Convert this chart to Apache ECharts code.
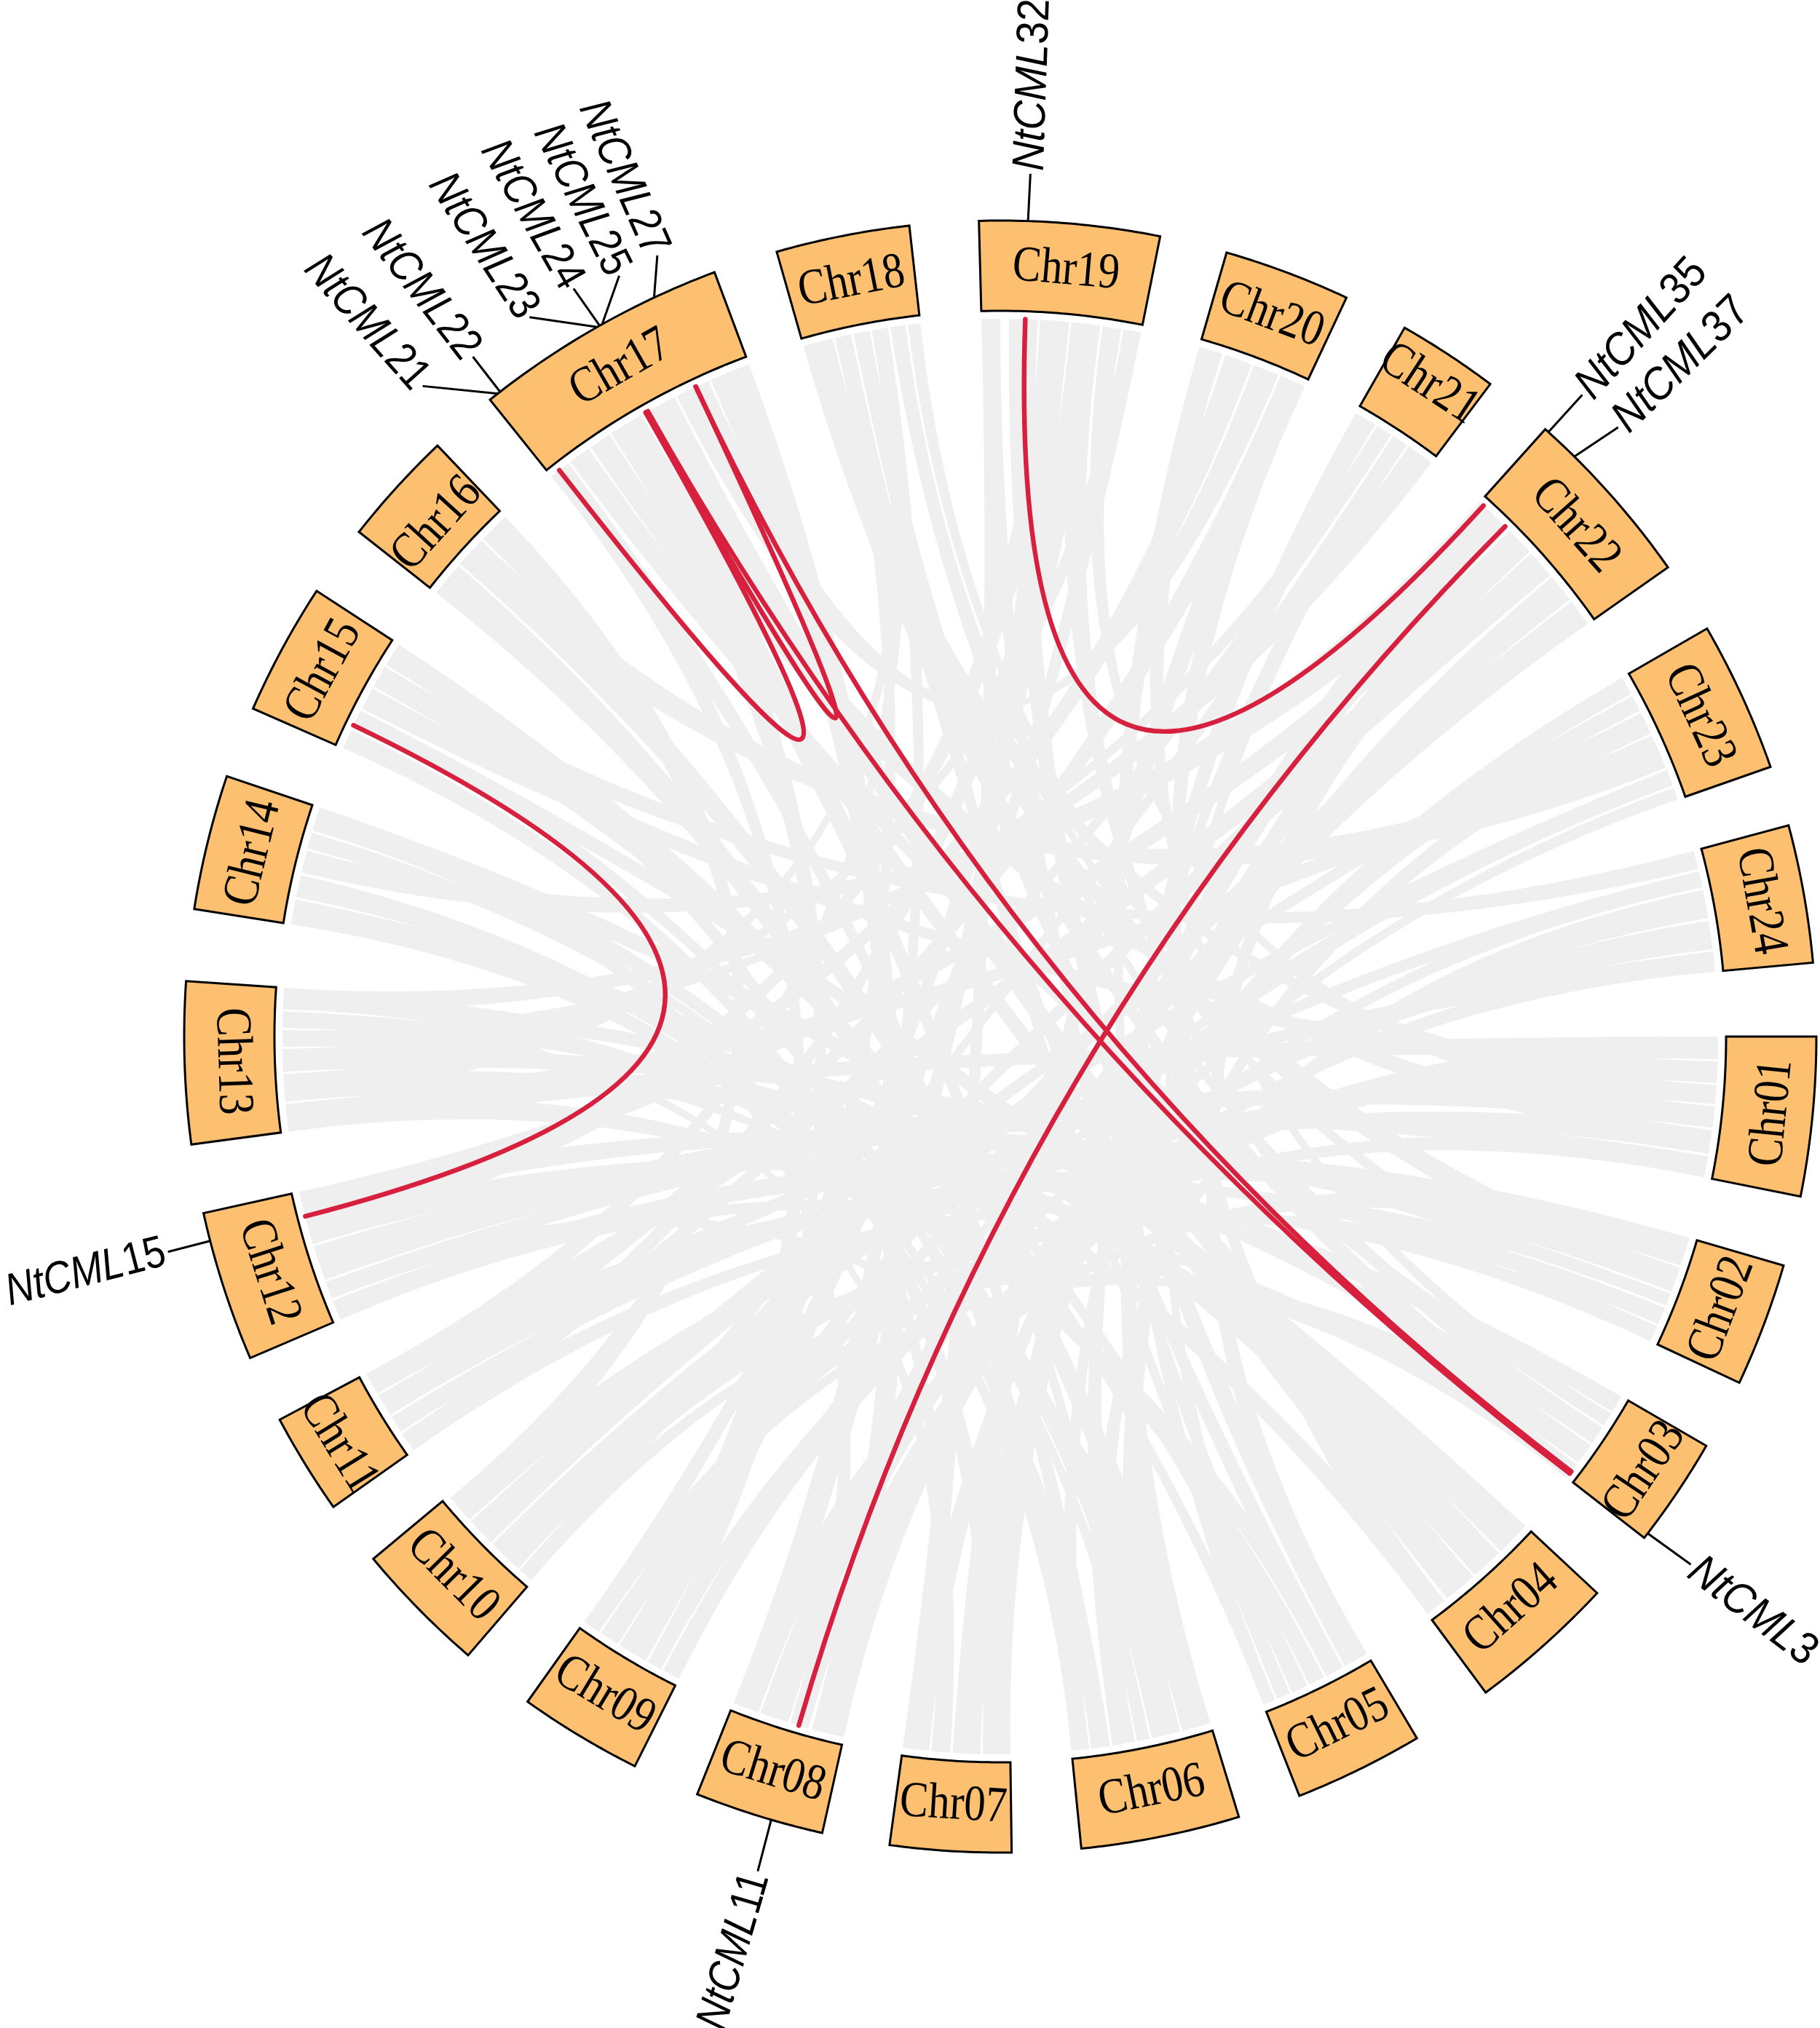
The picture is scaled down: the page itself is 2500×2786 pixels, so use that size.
<!DOCTYPE html>
<html>
<head>
<meta charset="utf-8">
<style>html,body{margin:0;padding:0;background:#fff}#c{width:2500px;height:2786px}</style>
<script src="https://cdn.jsdelivr.net/npm/echarts@6/dist/echarts.min.js"></script>
</head>
<body>
<div id="c"></div>
<script>
// Chromosome blocks, clockwise degrees from north
const chrNames = ['Chr01','Chr02','Chr03','Chr04','Chr05','Chr06','Chr07','Chr08','Chr09','Chr10','Chr11','Chr12','Chr13','Chr14','Chr15','Chr16','Chr17','Chr18','Chr19','Chr20','Chr21','Chr22','Chr23','Chr24'];
const chrStart = [90,106.3,120.1,133,149.3,163,179.2,192.6,206.6,220.7,234.8,246.8,262.4,279,293.7,308.2,321.3,344.1,358.5,16.1,29.7,41.9,60,75];
const chrEnd   = [101.3,115.1,127.9,143.5,158.5,174.3,187.8,201.8,215.4,230.2,242,257.5,273.9,288.6,303.1,316.4,339.5,353.6,371.3,25.1,36.9,54.9,70.7,84.8];
const chrLabelRadius = [1066,1060,1068,1055,1055,1058,1058,1058,1056,1056,1068,1056,1056,1056,1056,1046,1056,1056,1056,1058,1072,1056,1056,1060];

// Grey synteny ribbons: [from start, from end, to start, to end] in degrees
const greyLinks = [
 [90,91.8,262.4,264.6],[92,93.7,208.2,209.4],[93.9,95.4,227.7,230],[95.6,97.3,248.6,250],[97.5,99.4,327.2,330],[99.6,101.3,214,215.4],
 [106.3,108.6,238.2,240],[108.8,110.8,344.1,346.5],[111,112,240.2,242],[112.2,113.6,246.8,248.4],[113.8,115.1,351.2,352.4],
 [120.1,121.5,253.2,255.3],[121.7,122.8,16.1,18],[123,124.5,272.2,273.9],[124.7,126.4,344.1,346.5],[126.6,127.9,5.7,8],
 [133,135.8,295.5,297],[136,138.6,286.7,288.6],[138.8,141.5,348.2,349.5],[141.8,143.5,23,25.1],
 [149.3,151.3,0.7,3],[151.5,153,346.7,348],[153.2,154.5,269.2,270.5],[154.7,156,358.5,360],[156.2,157.3,33.2,34.5],[157.5,158.5,301.2,303.1],
 [163,165.3,311.2,313.7],[165.5,167.8,63.2,65],[168,169,327.2,330],[169.2,171,33.2,34.5],[171.2,172.7,281.2,283],[172.9,174.3,45.2,47.5],
 [179.2,181.4,41.9,45],[181.6,183.8,23,25.1],[184,185.5,270.7,272],[185.7,187.8,61.7,63],
 [192.6,195.2,76.7,78],[195.5,197,286.7,288.6],[197.2,199.5,52.7,54.9],[199.7,201.8,349.7,351],
 [206.6,208,68.2,69.5],[209.6,212,9.9,11.3],[212.2,213.8,68.2,69.5],[214,215.4,5.7,8],
 [220.8,222,47.7,50],[222.2,225,76.7,78],[225.2,227.5,61.7,63],[227.7,230,313.9,316.4],
 [234.8,236.4,31.7,33],[236.6,238,97.5,99.4],[238.2,240,83.2,84.8],
 [246.8,248.4,106.3,108.6],[250.2,253,95.6,97.3],[253.2,255.3,3.2,5.5],[255.5,257.5,45.2,47.5],
 [264.8,267,349.7,351],[267.2,269,9.9,11.3],[272.2,273.9,34.7,36.9],
 [325.2,327,138.8,141.5],[330.2,333,136,138.6],[348.2,349.5,156.2,157.3],[295.5,297,172.9,174.3],
 [308.2,311,172.9,174.3],[352.6,353.6,108.8,110.8],[29.7,31.5,163,165.3],[50.2,52.5,179.2,181.4],[69.7,70.7,192.6,195.2],[80.7,83,206.6,208],
 [90,91.8,195.5,197],[92,93.7,297.2,299],[95.6,97.3,8.2,9.7],[99.6,101.3,250.2,253],[106.3,108.6,199.7,201.8],[108.8,110.8,255.5,257.5],
 [112.2,113.6,222.2,225],[120.1,121.5,264.8,267],[123,124.5,351.2,352.4],[126.6,127.9,220.8,222],[133,135.8,270.7,272],[141.8,143.5,279,281],
 [149.3,151.3,45.2,47.5],[151.5,153,262.4,264.6],[154.7,156,299.2,301],[157.5,158.5,16.1,18],[163,165.3,248.6,250],[168,169,285.2,286.5],
 [169.2,171,78.2,80.5],[171.2,172.7,321.3,323],[179.2,181.4,293.7,295.3],[181.6,183.8,60,61.5],[185.7,187.8,358.5,360],[192.6,195.2,336.2,339.5],
 [197.2,199.5,83.2,84.8],[199.7,201.8,3.2,5.5],[206.6,208,90,91.8],[209.6,212,346.7,348],[212.2,213.8,52.7,54.9],[214,215.4,124.7,126.4],
 [220.8,222,33.2,34.5],[225.2,227.5,68.2,69.5],[234.8,236.4,113.8,115.1],[238.2,240,23,25.1],[240.2,242,47.7,50],[246.8,248.4,126.6,127.9],
 [253.2,255.3,18.3,20.5],[262.4,264.6,63.2,65],[267.2,269,111,112],[269.2,270.5,31.7,33],[272.2,273.9,153.2,154.5],[279,281,172.9,174.3],
 [283.2,285,41.9,45],[286.7,288.6,165.5,167.8],[299.2,301,75,76.5],[301.2,303.1,184,185.5],[311.2,313.7,65.2,68],[321.3,323,209.6,212],
 [323.2,325,121.7,122.8],[327.2,330,208.2,209.4],[333.2,336,20.7,22.8],[344.1,346.5,93.9,95.4],[349.7,351,240.2,242],[5.7,8,234.8,236.4]
];

// Highlighted gene pairs: [from, to] in degrees
const redLinks = [[255.5,295.7],[2,42.3],[44.7,196.3],[322.1,330.4],[330.4,334.9],[330.6,127.5],[334.9,127.3]];

// Gene labels
const geneNames  = ['NtCML3','NtCML11','NtCML15','NtCML21','NtCML22','NtCML23','NtCML24','NtCML25','NtCML27','NtCML32','NtCML35','NtCML37'];
const geneAngle  = [127.5,196.3,255.5,322,322.2,330.4,330.6,330.8,334.9,1.95,42.2,44.7];
const leadAngle  = [127.4,196.2,255.5,318.4,322.2,326.8,330.3,333.4,336.3,2,42.2,45.4];
const leadRadius = [1194,1194,1181,1195,1182,1181,1183,1169,1172,1186,1190,1192];

const RO = 1121, RI = 997, RL = 986;
const rad = d => -d * Math.PI / 180;

function arc(api, r, a, b, n) {
  const pts = [];
  for (let i = 0; i <= n; i++) {
    pts.push(api.coord([r, (a + (b - a) * i / n + 720) % 360]));
  }
  return pts;
}
function bez(p0, c, p1, n) {
  const pts = [];
  for (let i = 1; i < n; i++) {
    const t = i / n, u = 1 - t;
    pts.push([u*u*p0[0] + 2*u*t*c[0] + t*t*p1[0], u*u*p0[1] + 2*u*t*c[1] + t*t*p1[1]]);
  }
  return pts;
}
const greyData = greyLinks.map(d => d.slice());
const chrData = chrNames.map((n, i) => [chrStart[i], chrEnd[i], chrLabelRadius[i]]);
const redData = redLinks.map(d => d.slice());
const geneData = geneNames.map((n, i) => [geneAngle[i], leadAngle[i], leadRadius[i]]);

const option = {
  backgroundColor: '#fff',
  animation: false,
  polar: { center: [1374, 1424], radius: RO },
  angleAxis: { type: 'value', min: 0, max: 360, startAngle: 90, clockwise: true, show: false },
  radiusAxis: { type: 'value', min: 0, max: RO, show: false },
  series: [
    { type: 'custom', coordinateSystem: 'polar', silent: true, z: 1, clip: false,
      data: greyData,
      renderItem(p, api) {
        const v = [api.value(0), api.value(1), api.value(2), api.value(3)];
        const c = api.coord([0, 0]);
        const A = arc(api, RL, v[0], v[1], 6), B = arc(api, RL, v[2], v[3], 6);
        const pts = A.concat(bez(A[6], c, B[0], 40), B, bez(B[6], c, A[0], 40));
        return { type: 'polygon', shape: { points: pts }, style: { fill: '#efefef', stroke: null } };
      } },
    { type: 'custom', coordinateSystem: 'polar', silent: true, z: 2, clip: false,
      data: redData,
      renderItem(p, api) {
        const c = api.coord([0, 0]);
        const a = api.coord([RL, api.value(0)]), b = api.coord([RL, api.value(1)]);
        return { type: 'bezierCurve',
          shape: { x1: a[0], y1: a[1], x2: b[0], y2: b[1], cpx1: c[0], cpy1: c[1] },
          style: { stroke: '#d71f3e', lineWidth: 6.5, fill: null, lineCap: 'round' } };
      } },
    { type: 'custom', coordinateSystem: 'polar', silent: true, z: 3, clip: false,
      data: geneData,
      renderItem(p, api) {
        const ga = api.value(0), la = api.value(1), lr = api.value(2);
        const name = geneNames[p.dataIndex];
        const s = api.coord([RO, ga]), e = api.coord([lr, la]);
        const right = ga < 180;
        const rotDeg = right ? la - 90 : la - 270;
        const t = api.coord([lr + 4, la]);
        return { type: 'group', children: [
          { type: 'line', shape: { x1: s[0], y1: s[1], x2: e[0], y2: e[1] }, style: { stroke: '#000', lineWidth: 3 } },
          { type: 'text', x: t[0], y: t[1], rotation: rad(rotDeg), scaleX: right ? 1 : 0.95, scaleY: 1.1,
            style: { text: '{a|' + name.slice(0, 5) + '}{b|' + name.slice(5) + '}', align: right ? 'left' : 'right', verticalAlign: 'middle', fill: '#000',
              rich: { a: { font: 'italic 56px "Liberation Sans"', fill: '#000' }, b: { font: '56px "Liberation Sans"', fill: '#000' } } } }
        ] };
      } },
    { type: 'custom', coordinateSystem: 'polar', silent: true, z: 4, clip: false,
      data: chrData,
      renderItem(p, api) {
        const a = api.value(0), b = api.value(1), lr = api.value(2);
        const pts = arc(api, RO, a, b, 30).concat(arc(api, RI, b, a, 30));
        const mid = (a + b) / 2 % 360;
        const rotDeg = (mid > 90 && mid < 270) ? mid - 180 : mid;
        const t = api.coord([lr, mid]);
        return { type: 'group', children: [
          { type: 'polygon', shape: { points: pts }, style: { fill: '#fdbf70', stroke: '#000', lineWidth: 3, lineJoin: 'miter' } },
          { type: 'text', x: t[0], y: t[1], rotation: rad(rotDeg), scaleX: 0.95, scaleY: 1.12,
            style: { text: chrNames[p.dataIndex], font: '62px "Liberation Serif"', align: 'center', verticalAlign: 'middle', fill: '#000' } }
        ] };
      } }
  ]
};
const chart = echarts.init(document.getElementById('c'), null, { renderer: 'canvas' });
chart.setOption(option);
</script>
</body>
</html>
